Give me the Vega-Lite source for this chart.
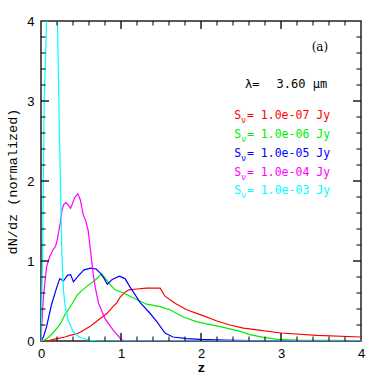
{
  "$schema": "https://vega.github.io/schema/vega-lite/v6.json",
  "width": 320,
  "height": 320,
  "autosize": {"type": "none"},
  "padding": {"left": 41, "top": 21, "right": 21, "bottom": 41},
  "background": "white",
  "config": {
    "view": {"stroke": "#222", "strokeWidth": 1.5},
    "axis": {
      "domain": false,
      "ticks": false,
      "grid": false,
      "labelFont": "Liberation Sans",
      "labelFontSize": 13,
      "labelColor": "#000",
      "titleColor": "#000"
    }
  },
  "datasets": {
    "curves": [
      {"flux": "1.0e-07", "z": 0, "n": 0}, {"flux": "1.0e-07", "z": 0.1, "n": 0.005}, {"flux": "1.0e-07", "z": 0.2, "n": 0.03}, {"flux": "1.0e-07", "z": 0.3, "n": 0.05}, {"flux": "1.0e-07", "z": 0.36, "n": 0.07}, {"flux": "1.0e-07", "z": 0.45, "n": 0.09}, {"flux": "1.0e-07", "z": 0.49, "n": 0.11}, {"flux": "1.0e-07", "z": 0.61, "n": 0.18}, {"flux": "1.0e-07", "z": 0.7, "n": 0.25}, {"flux": "1.0e-07", "z": 0.74, "n": 0.28}, {"flux": "1.0e-07", "z": 0.82, "n": 0.34}, {"flux": "1.0e-07", "z": 0.9, "n": 0.43}, {"flux": "1.0e-07", "z": 0.95, "n": 0.48}, {"flux": "1.0e-07", "z": 0.99, "n": 0.55}, {"flux": "1.0e-07", "z": 1.05, "n": 0.61}, {"flux": "1.0e-07", "z": 1.1, "n": 0.64}, {"flux": "1.0e-07", "z": 1.2, "n": 0.65}, {"flux": "1.0e-07", "z": 1.32, "n": 0.66}, {"flux": "1.0e-07", "z": 1.49, "n": 0.66}, {"flux": "1.0e-07", "z": 1.55, "n": 0.56}, {"flux": "1.0e-07", "z": 1.68, "n": 0.47}, {"flux": "1.0e-07", "z": 1.82, "n": 0.39}, {"flux": "1.0e-07", "z": 1.99, "n": 0.33}, {"flux": "1.0e-07", "z": 2.2, "n": 0.25}, {"flux": "1.0e-07", "z": 2.36, "n": 0.2}, {"flux": "1.0e-07", "z": 2.53, "n": 0.16}, {"flux": "1.0e-07", "z": 2.7, "n": 0.14}, {"flux": "1.0e-07", "z": 3.0, "n": 0.1}, {"flux": "1.0e-07", "z": 3.45, "n": 0.07}, {"flux": "1.0e-07", "z": 4.0, "n": 0.05},
      {"flux": "1.0e-06", "z": 0, "n": 0}, {"flux": "1.0e-06", "z": 0.04, "n": 0.01}, {"flux": "1.0e-06", "z": 0.1, "n": 0.05}, {"flux": "1.0e-06", "z": 0.15, "n": 0.1}, {"flux": "1.0e-06", "z": 0.24, "n": 0.21}, {"flux": "1.0e-06", "z": 0.3, "n": 0.33}, {"flux": "1.0e-06", "z": 0.38, "n": 0.45}, {"flux": "1.0e-06", "z": 0.45, "n": 0.57}, {"flux": "1.0e-06", "z": 0.51, "n": 0.63}, {"flux": "1.0e-06", "z": 0.57, "n": 0.68}, {"flux": "1.0e-06", "z": 0.65, "n": 0.74}, {"flux": "1.0e-06", "z": 0.72, "n": 0.8}, {"flux": "1.0e-06", "z": 0.76, "n": 0.84}, {"flux": "1.0e-06", "z": 0.8, "n": 0.79}, {"flux": "1.0e-06", "z": 0.86, "n": 0.71}, {"flux": "1.0e-06", "z": 0.925, "n": 0.64}, {"flux": "1.0e-06", "z": 1.03, "n": 0.6}, {"flux": "1.0e-06", "z": 1.15, "n": 0.54}, {"flux": "1.0e-06", "z": 1.32, "n": 0.46}, {"flux": "1.0e-06", "z": 1.49, "n": 0.43}, {"flux": "1.0e-06", "z": 1.61, "n": 0.39}, {"flux": "1.0e-06", "z": 1.78, "n": 0.3}, {"flux": "1.0e-06", "z": 1.95, "n": 0.24}, {"flux": "1.0e-06", "z": 2.24, "n": 0.18}, {"flux": "1.0e-06", "z": 2.49, "n": 0.12}, {"flux": "1.0e-06", "z": 2.61, "n": 0.08}, {"flux": "1.0e-06", "z": 2.78, "n": 0.045}, {"flux": "1.0e-06", "z": 2.95, "n": 0.02}, {"flux": "1.0e-06", "z": 3.2, "n": 0.01}, {"flux": "1.0e-06", "z": 4.0, "n": 0.005},
      {"flux": "1.0e-05", "z": 0, "n": 0}, {"flux": "1.0e-05", "z": 0.03, "n": 0.05}, {"flux": "1.0e-05", "z": 0.07, "n": 0.18}, {"flux": "1.0e-05", "z": 0.13, "n": 0.45}, {"flux": "1.0e-05", "z": 0.2, "n": 0.68}, {"flux": "1.0e-05", "z": 0.235, "n": 0.78}, {"flux": "1.0e-05", "z": 0.28, "n": 0.75}, {"flux": "1.0e-05", "z": 0.33, "n": 0.82}, {"flux": "1.0e-05", "z": 0.37, "n": 0.83}, {"flux": "1.0e-05", "z": 0.405, "n": 0.74}, {"flux": "1.0e-05", "z": 0.48, "n": 0.83}, {"flux": "1.0e-05", "z": 0.54, "n": 0.89}, {"flux": "1.0e-05", "z": 0.62, "n": 0.91}, {"flux": "1.0e-05", "z": 0.69, "n": 0.9}, {"flux": "1.0e-05", "z": 0.75, "n": 0.84}, {"flux": "1.0e-05", "z": 0.79, "n": 0.78}, {"flux": "1.0e-05", "z": 0.83, "n": 0.71}, {"flux": "1.0e-05", "z": 0.89, "n": 0.77}, {"flux": "1.0e-05", "z": 0.98, "n": 0.81}, {"flux": "1.0e-05", "z": 1.05, "n": 0.78}, {"flux": "1.0e-05", "z": 1.11, "n": 0.68}, {"flux": "1.0e-05", "z": 1.24, "n": 0.48}, {"flux": "1.0e-05", "z": 1.36, "n": 0.35}, {"flux": "1.0e-05", "z": 1.45, "n": 0.24}, {"flux": "1.0e-05", "z": 1.55, "n": 0.1}, {"flux": "1.0e-05", "z": 1.65, "n": 0.05}, {"flux": "1.0e-05", "z": 1.82, "n": 0.03}, {"flux": "1.0e-05", "z": 1.99, "n": 0.02}, {"flux": "1.0e-05", "z": 2.3, "n": 0.01}, {"flux": "1.0e-05", "z": 2.6, "n": 0.005}, {"flux": "1.0e-05", "z": 3.0, "n": 0}, {"flux": "1.0e-05", "z": 4.0, "n": 0},
      {"flux": "1.0e-04", "z": 0, "n": 0}, {"flux": "1.0e-04", "z": 0.01, "n": 0.2}, {"flux": "1.0e-04", "z": 0.03, "n": 0.55}, {"flux": "1.0e-04", "z": 0.07, "n": 0.93}, {"flux": "1.0e-04", "z": 0.11, "n": 1.06}, {"flux": "1.0e-04", "z": 0.15, "n": 1.14}, {"flux": "1.0e-04", "z": 0.18, "n": 1.18}, {"flux": "1.0e-04", "z": 0.2, "n": 1.25}, {"flux": "1.0e-04", "z": 0.24, "n": 1.47}, {"flux": "1.0e-04", "z": 0.26, "n": 1.62}, {"flux": "1.0e-04", "z": 0.28, "n": 1.7}, {"flux": "1.0e-04", "z": 0.31, "n": 1.73}, {"flux": "1.0e-04", "z": 0.34, "n": 1.7}, {"flux": "1.0e-04", "z": 0.37, "n": 1.66}, {"flux": "1.0e-04", "z": 0.425, "n": 1.8}, {"flux": "1.0e-04", "z": 0.46, "n": 1.84}, {"flux": "1.0e-04", "z": 0.49, "n": 1.77}, {"flux": "1.0e-04", "z": 0.53, "n": 1.57}, {"flux": "1.0e-04", "z": 0.56, "n": 1.5}, {"flux": "1.0e-04", "z": 0.59, "n": 1.38}, {"flux": "1.0e-04", "z": 0.62, "n": 1.12}, {"flux": "1.0e-04", "z": 0.655, "n": 0.82}, {"flux": "1.0e-04", "z": 0.68, "n": 0.66}, {"flux": "1.0e-04", "z": 0.72, "n": 0.47}, {"flux": "1.0e-04", "z": 0.8, "n": 0.28}, {"flux": "1.0e-04", "z": 0.9, "n": 0.14}, {"flux": "1.0e-04", "z": 1.01, "n": 0.01}, {"flux": "1.0e-04", "z": 1.1, "n": 0}, {"flux": "1.0e-04", "z": 4.0, "n": 0},
      {"flux": "1.0e-03", "z": 0, "n": 0}, {"flux": "1.0e-03", "z": 0.02, "n": 1.1}, {"flux": "1.0e-03", "z": 0.04, "n": 3.0}, {"flux": "1.0e-03", "z": 0.07, "n": 4.0}, {"flux": "1.0e-03", "z": 0.1, "n": 5.5}, {"flux": "1.0e-03", "z": 0.14, "n": 6.5}, {"flux": "1.0e-03", "z": 0.18, "n": 5.3}, {"flux": "1.0e-03", "z": 0.206, "n": 4.0}, {"flux": "1.0e-03", "z": 0.229, "n": 2.64}, {"flux": "1.0e-03", "z": 0.24, "n": 2.14}, {"flux": "1.0e-03", "z": 0.26, "n": 1.12}, {"flux": "1.0e-03", "z": 0.28, "n": 0.64}, {"flux": "1.0e-03", "z": 0.3, "n": 0.45}, {"flux": "1.0e-03", "z": 0.34, "n": 0.26}, {"flux": "1.0e-03", "z": 0.4, "n": 0.12}, {"flux": "1.0e-03", "z": 0.45, "n": 0.07}, {"flux": "1.0e-03", "z": 0.5, "n": 0.04}, {"flux": "1.0e-03", "z": 0.6, "n": 0.01}, {"flux": "1.0e-03", "z": 0.7, "n": 0}, {"flux": "1.0e-03", "z": 4.0, "n": 0}
    ],
    "legendrows": [
      {"flux": "1.0e-07", "label": "= 1.0e-07 Jy", "ty": 2.81},
      {"flux": "1.0e-06", "label": "= 1.0e-06 Jy", "ty": 2.575},
      {"flux": "1.0e-05", "label": "= 1.0e-05 Jy", "ty": 2.34},
      {"flux": "1.0e-04", "label": "= 1.0e-04 Jy", "ty": 2.105},
      {"flux": "1.0e-03", "label": "= 1.0e-03 Jy", "ty": 1.87}
    ],
    "major": [{"t": 1}, {"t": 2}, {"t": 3}],
    "minor": [{"t": 0.2}, {"t": 0.4}, {"t": 0.6}, {"t": 0.8}, {"t": 1.2}, {"t": 1.4}, {"t": 1.6}, {"t": 1.8}, {"t": 2.2}, {"t": 2.4}, {"t": 2.6}, {"t": 2.8}, {"t": 3.2}, {"t": 3.4}, {"t": 3.6}, {"t": 3.8}],
    "one": [{"k": 1}]
  },
  "layer": [
    {
      "data": {"name": "curves"},
      "mark": {"type": "line", "clip": true, "strokeWidth": 1.2, "interpolate": "linear"},
      "encoding": {
        "x": {
          "field": "z", "type": "quantitative",
          "scale": {"domain": [0, 4], "nice": false, "zero": false},
          "axis": {
            "orient": "bottom",
            "values": [0, 1, 2, 3, 4],
            "format": "d",
            "labelPadding": 6,
            "labelFlush": false,
            "labelOverlap": false,
            "title": "z",
            "titleFont": "Liberation Mono",
            "titleFontWeight": "bold",
            "titleFontSize": 13,
            "titlePadding": 1
          }
        },
        "y": {
          "field": "n", "type": "quantitative",
          "scale": {"domain": [0, 4], "nice": false, "zero": false},
          "axis": {
            "orient": "left",
            "values": [0, 1, 2, 3, 4],
            "format": "d",
            "labelPadding": 7,
            "labelFlush": false,
            "labelOverlap": false,
            "title": "dN/dz (normalized)",
            "titleFont": "Liberation Mono",
            "titleFontWeight": "normal",
            "titleFontSize": 13.5,
            "titlePadding": 7
          }
        },
        "color": {
          "field": "flux", "type": "nominal", "legend": null,
          "scale": {"domain": ["1.0e-07", "1.0e-06", "1.0e-05", "1.0e-04", "1.0e-03"], "range": ["#ff0000", "#00ee00", "#0000ff", "#ff00ff", "#00ffff"]}
        }
      }
    },
    {
      "data": {"name": "major"},
      "mark": {"type": "tick", "color": "#111", "orient": "vertical", "size": 16, "thickness": 1.4, "clip": true, "opacity": 1},
      "encoding": {"x": {"field": "t", "type": "quantitative"}, "y": {"datum": 0, "type": "quantitative"}}
    },
    {
      "data": {"name": "major"},
      "mark": {"type": "tick", "color": "#111", "orient": "vertical", "size": 16, "thickness": 1.4, "clip": true, "opacity": 1},
      "encoding": {"x": {"field": "t", "type": "quantitative"}, "y": {"datum": 4, "type": "quantitative"}}
    },
    {
      "data": {"name": "major"},
      "mark": {"type": "tick", "color": "#111", "orient": "horizontal", "size": 16, "thickness": 1.4, "clip": true, "opacity": 1},
      "encoding": {"y": {"field": "t", "type": "quantitative"}, "x": {"datum": 0, "type": "quantitative"}}
    },
    {
      "data": {"name": "major"},
      "mark": {"type": "tick", "color": "#111", "orient": "horizontal", "size": 16, "thickness": 1.4, "clip": true, "opacity": 1},
      "encoding": {"y": {"field": "t", "type": "quantitative"}, "x": {"datum": 4, "type": "quantitative"}}
    },
    {
      "data": {"name": "minor"},
      "mark": {"type": "tick", "color": "#111", "orient": "vertical", "size": 9, "thickness": 1.1, "clip": true, "opacity": 1},
      "encoding": {"x": {"field": "t", "type": "quantitative"}, "y": {"datum": 0, "type": "quantitative"}}
    },
    {
      "data": {"name": "minor"},
      "mark": {"type": "tick", "color": "#111", "orient": "vertical", "size": 9, "thickness": 1.1, "clip": true, "opacity": 1},
      "encoding": {"x": {"field": "t", "type": "quantitative"}, "y": {"datum": 4, "type": "quantitative"}}
    },
    {
      "data": {"name": "minor"},
      "mark": {"type": "tick", "color": "#111", "orient": "horizontal", "size": 9, "thickness": 1.1, "clip": true, "opacity": 1},
      "encoding": {"y": {"field": "t", "type": "quantitative"}, "x": {"datum": 0, "type": "quantitative"}}
    },
    {
      "data": {"name": "minor"},
      "mark": {"type": "tick", "color": "#111", "orient": "horizontal", "size": 9, "thickness": 1.1, "clip": true, "opacity": 1},
      "encoding": {"y": {"field": "t", "type": "quantitative"}, "x": {"datum": 4, "type": "quantitative"}}
    },
    {
      "data": {"name": "one"},
      "mark": {"type": "text", "text": "(a)", "align": "right", "baseline": "middle", "font": "DejaVu Serif", "fontSize": 12, "color": "#000"},
      "encoding": {
        "x": {"datum": 3.59, "type": "quantitative"},
        "y": {"datum": 3.675, "type": "quantitative"}
      }
    },
    {
      "data": {"name": "one"},
      "mark": {"type": "text", "text": "λ=", "align": "left", "baseline": "middle", "font": "DejaVu Sans Mono", "fontSize": 12, "color": "#000"},
      "encoding": {
        "x": {"datum": 2.55, "type": "quantitative"},
        "y": {"datum": 3.21, "type": "quantitative"}
      }
    },
    {
      "data": {"name": "one"},
      "mark": {"type": "text", "text": "3.60 μm", "align": "left", "baseline": "middle", "font": "DejaVu Sans Mono", "fontSize": 12, "color": "#000"},
      "encoding": {
        "x": {"datum": 2.945, "type": "quantitative"},
        "y": {"datum": 3.21, "type": "quantitative"}
      }
    },
    {
      "data": {"name": "legendrows"},
      "mark": {"type": "text", "text": "S", "align": "left", "baseline": "middle", "font": "DejaVu Sans Mono", "fontSize": 11.5},
      "encoding": {
        "x": {"datum": 2.415, "type": "quantitative"},
        "y": {"field": "ty", "type": "quantitative"},
        "color": {"field": "flux", "type": "nominal", "legend": null}
      }
    },
    {
      "data": {"name": "legendrows"},
      "mark": {"type": "text", "text": "ν", "align": "left", "baseline": "middle", "font": "DejaVu Sans Mono", "fontSize": 8.5, "dy": 4},
      "encoding": {
        "x": {"datum": 2.5, "type": "quantitative"},
        "y": {"field": "ty", "type": "quantitative"},
        "color": {"field": "flux", "type": "nominal", "legend": null}
      }
    },
    {
      "data": {"name": "legendrows"},
      "mark": {"type": "text", "align": "left", "baseline": "middle", "font": "DejaVu Sans Mono", "fontSize": 11.5},
      "encoding": {
        "x": {"datum": 2.575, "type": "quantitative"},
        "y": {"field": "ty", "type": "quantitative"},
        "text": {"field": "label"},
        "color": {"field": "flux", "type": "nominal", "legend": null}
      }
    }
  ]
}
